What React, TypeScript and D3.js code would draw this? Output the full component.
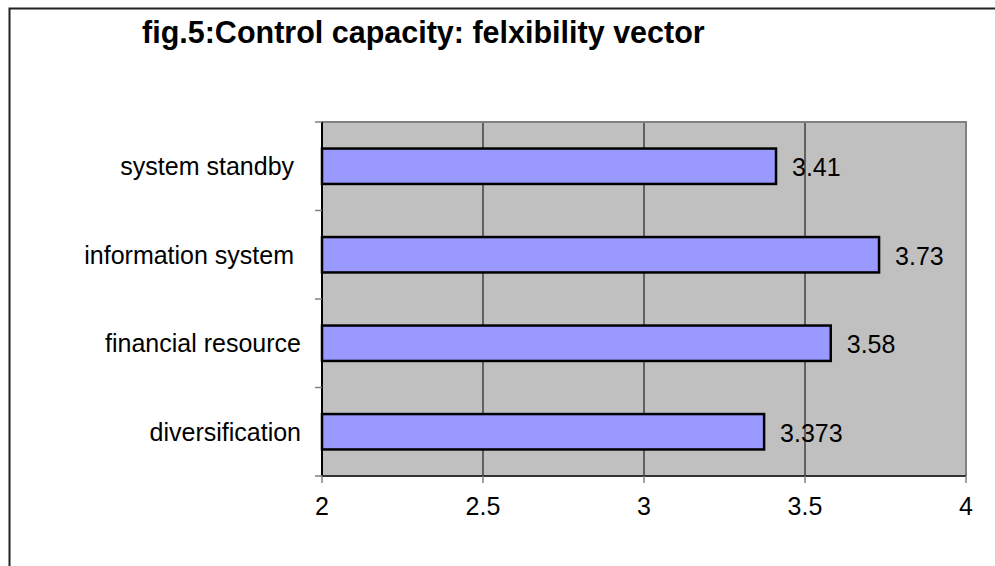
import React from "react"
import * as d3 from "d3"

// ---------- Data ----------
const categories = ["system standby ", "information system ", "financial resource", "diversification"]
const values = [3.41, 3.73, 3.58, 3.373]
const valueLabels = ["3.41", "3.73", "3.58", "3.373"]
const xTicks = [2, 2.5, 3, 3.5, 4]
const xTickLabels = ["2", "2.5", "3", "3.5", "4"]
const title = "fig.5:Control capacity: felxibility vector"

// ---------- Layout ----------
const W = 995
const H = 566
const plot = { left: 322, right: 966, top: 122, bottom: 476 }
const FONT = "'Liberation Sans', Arial, sans-serif"
const FS = 25

const App: React.FC = () => {
    const x = d3.scaleLinear().domain([2, 4]).range([plot.left, plot.right])
    const y = d3.scaleBand<string>().domain(categories).range([plot.top, plot.bottom])
    const step = y.step()
    const barH = step * 0.4

    return (
        <div style={{ position: "absolute", left: 0, top: 0 }}>
            <svg width={W} height={H} style={{ display: "block", fontFamily: FONT }}>
                <rect x={0} y={0} width={W} height={H} fill="#fff" />
                {/* outer chart frame */}
                <rect x={9.5} y={8.5} width={W + 20} height={H + 20} fill="none" stroke="#222" strokeWidth={2} />

                {/* title */}
                <text x={142} y={43} fontSize={30.5} fontWeight="bold" fill="#000">{title}</text>

                {/* plot area */}
                <rect x={plot.left} y={plot.top} width={plot.right - plot.left} height={plot.bottom - plot.top} fill="#c0c0c0" />

                {/* grid */}
                {xTicks.slice(1, -1).map(t => (
                    <line key={t} x1={x(t)} x2={x(t)} y1={plot.top} y2={plot.bottom} stroke="#000" strokeWidth={1} />
                ))}

                {/* plot border top/right */}
                <path d={`M${plot.left},${plot.top}H${plot.right}V${plot.bottom}`} fill="none" stroke="#808080" strokeWidth={2} />

                {/* bars */}
                {categories.map((c, i) => {
                    const yc = (y(c) ?? 0) + step / 2
                    return (
                        <g key={c}>
                            <rect x={x(2)} y={yc - barH / 2} width={x(values[i]) - x(2)} height={barH}
                                fill="#9999ff" stroke="#000" strokeWidth={2.5} />
                            <text x={x(values[i]) + 16} y={yc + 10} fontSize={FS} fill="#000">{valueLabels[i]}</text>
                            <text x={301} y={yc + 9} fontSize={FS} fill="#000" textAnchor="end"
                                style={{ whiteSpace: "pre" }}>{c}</text>
                        </g>
                    )
                })}

                {/* y axis */}
                <line x1={plot.left} x2={plot.left} y1={plot.top} y2={plot.bottom} stroke="#000" strokeWidth={2} />
                {[0, 1, 2, 3, 4].map(k => {
                    const yy = plot.top + k * step
                    return <line key={k} x1={plot.left - 7} x2={plot.left} y1={yy} y2={yy} stroke="#808080" strokeWidth={1.5} />
                })}

                {/* x axis */}
                <line x1={plot.left} x2={plot.right} y1={plot.bottom} y2={plot.bottom} stroke="#333" strokeWidth={2} />
                {xTicks.map((t, i) => (
                    <g key={t}>
                        <line x1={x(t)} x2={x(t)} y1={plot.bottom} y2={plot.bottom + 7} stroke="#808080" strokeWidth={1.5} />
                        <text x={x(t)} y={515} fontSize={FS} textAnchor="middle" fill="#000">{xTickLabels[i]}</text>
                    </g>
                ))}
            </svg>
        </div>
    )
}

export default App
